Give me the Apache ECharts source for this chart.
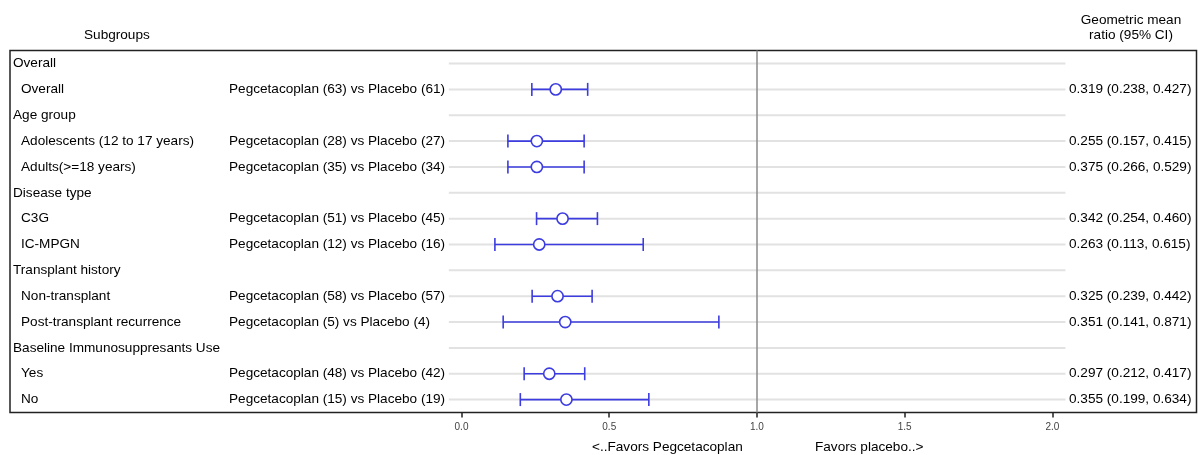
<!DOCTYPE html>
<html>
<head>
<meta charset="utf-8">
<script src="https://cdn.jsdelivr.net/npm/echarts@6/dist/echarts.min.js"></script>
<style>
html,body{margin:0;padding:0;background:#fff;}
#chart{width:1198px;height:455px;}
</style>
</head>
<body>
<div id="chart"></div>
<script>
// ---- data ----
const subgroupLabels = ['Overall','Overall','Age group','Adolescents (12 to 17 years)','Adults(>=18 years)','Disease type','C3G','IC-MPGN','Transplant history','Non-transplant','Post-transplant recurrence','Baseline Immunosuppresants Use','Yes','No'];
const isHeader = [true,false,true,false,false,true,false,false,true,false,false,true,false,false];
const comparisons = ['','Pegcetacoplan (63) vs Placebo (61)','','Pegcetacoplan (28) vs Placebo (27)','Pegcetacoplan (35) vs Placebo (34)','','Pegcetacoplan (51) vs Placebo (45)','Pegcetacoplan (12) vs Placebo (16)','','Pegcetacoplan (58) vs Placebo (57)','Pegcetacoplan (5) vs Placebo (4)','','Pegcetacoplan (48) vs Placebo (42)','Pegcetacoplan (15) vs Placebo (19)'];
const ratioTexts = ['','0.319 (0.238, 0.427)','','0.255 (0.157, 0.415)','0.375 (0.266, 0.529)','','0.342 (0.254, 0.460)','0.263 (0.113, 0.615)','','0.325 (0.239, 0.442)','0.351 (0.141, 0.871)','','0.297 (0.212, 0.417)','0.355 (0.199, 0.634)'];
// plotted marks as drawn in the picture
const estimates = [null,0.319,null,0.255,0.255,null,0.342,0.263,null,0.325,0.351,null,0.297,0.355];
const lowerCI   = [null,0.238,null,0.157,0.157,null,0.254,0.113,null,0.239,0.141,null,0.212,0.199];
const upperCI   = [null,0.427,null,0.415,0.415,null,0.460,0.615,null,0.442,0.871,null,0.417,0.634];
const xTickValues = [0,0.5,1,1.5,2];
const refValue = 1;

// ---- chart ----
const FONT = '"Liberation Sans", Arial, sans-serif';
const FS = '13.6px ';
const BLUE = '#3c3ce0';
const rowGuideMin = -0.043, rowGuideMax = 2.044;

const rowIdx = subgroupLabels.map((_, i) => i);
const ciData = rowIdx.filter(i => estimates[i] != null).map(i => [estimates[i], i, lowerCI[i], upperCI[i]]);

const chart = echarts.init(document.getElementById('chart'), null, {renderer: 'canvas'});
chart.setOption({
  animation: false,
  textStyle: {fontFamily: FONT},
  grid: {left: 10, right: 1.5, top: 50.6, bottom: 42.5, show: true, borderColor: '#222', borderWidth: 1.5, backgroundColor: 'transparent'},
  xAxis: {
    type: 'value', min: -1.5281, max: 2.4875, position: 'bottom',
    axisLine: {show: false, onZero: false},
    splitLine: {show: false},
    axisTick: {show: true, customValues: xTickValues, length: 5, lineStyle: {color: '#222', width: 1.5}},
    axisLabel: {customValues: xTickValues, formatter: v => v.toFixed(1), fontSize: 10, color: '#444', margin: 10, fontFamily: FONT}
  },
  yAxis: {
    type: 'value', min: -0.5, max: 13.5, inverse: true,
    show: false, splitLine: {show: false}
  },
  graphic: [
    {type: 'text', x: 84, y: 35, style: {text: 'Subgroups', font: FS + FONT, fill: '#000', verticalAlign: 'middle'}},
    {type: 'text', x: 1131, y: 20, style: {text: 'Geometric mean', font: FS + FONT, fill: '#000', align: 'center', verticalAlign: 'middle'}},
    {type: 'text', x: 1131, y: 35, style: {text: 'ratio (95% CI)', font: FS + FONT, fill: '#000', align: 'center', verticalAlign: 'middle'}},
    {type: 'text', x: 592, y: 447, style: {text: '<..Favors Pegcetacoplan', font: FS + FONT, fill: '#000', verticalAlign: 'middle'}},
    {type: 'text', x: 815, y: 447, style: {text: 'Favors placebo..>', font: FS + FONT, fill: '#000', verticalAlign: 'middle'}}
  ],
  series: [
    {
      type: 'custom', name: 'rowGuides', silent: true, z: 1,
      data: rowIdx.map(i => [i]),
      renderItem: (params, api) => {
        const r = api.value(0);
        const p1 = api.coord([rowGuideMin, r]);
        const p2 = api.coord([rowGuideMax, r]);
        return {type: 'line', shape: {x1: p1[0], y1: p1[1], x2: p2[0], y2: p2[1]}, style: {stroke: '#e2e2e2', lineWidth: 2}};
      },
      markLine: {
        silent: true, symbol: 'none', label: {show: false},
        lineStyle: {color: '#8a8a8a', width: 1.5, type: 'solid'},
        data: [{xAxis: refValue}]
      }
    },
    {
      type: 'custom', name: 'texts', silent: true, z: 3,
      data: rowIdx.map(i => [i]),
      renderItem: (params, api) => {
        const i = api.value(0);
        const y = api.coord([0, i])[1];
        const x0 = params.coordSys.x;
        const children = [
          {type: 'text', x: x0 + (isHeader[i] ? 3 : 11), y: y, style: {text: subgroupLabels[i], font: FS + FONT, fill: '#000', verticalAlign: 'middle'}}
        ];
        if (comparisons[i]) children.push({type: 'text', x: x0 + 219, y: y, style: {text: comparisons[i], font: FS + FONT, fill: '#000', verticalAlign: 'middle'}});
        if (ratioTexts[i]) children.push({type: 'text', x: x0 + 1059, y: y, style: {text: ratioTexts[i], font: FS + FONT, fill: '#000', verticalAlign: 'middle'}});
        return {type: 'group', children: children};
      }
    },
    {
      type: 'custom', name: 'ci', silent: true, z: 4,
      data: ciData,
      renderItem: (params, api) => {
        const est = api.coord([api.value(0), api.value(1)]);
        const lo = api.coord([api.value(2), api.value(1)]);
        const hi = api.coord([api.value(3), api.value(1)]);
        const cap = 6.5;
        const st = {stroke: BLUE, lineWidth: 1.6};
        return {type: 'group', children: [
          {type: 'line', shape: {x1: lo[0], y1: lo[1], x2: hi[0], y2: hi[1]}, style: st},
          {type: 'line', shape: {x1: lo[0], y1: lo[1] - cap, x2: lo[0], y2: lo[1] + cap}, style: st},
          {type: 'line', shape: {x1: hi[0], y1: hi[1] - cap, x2: hi[0], y2: hi[1] + cap}, style: st},
          {type: 'circle', shape: {cx: est[0], cy: est[1], r: 5.6}, style: {fill: '#fff', stroke: BLUE, lineWidth: 1.6}}
        ]};
      }
    }
  ]
});
</script>
</body>
</html>
